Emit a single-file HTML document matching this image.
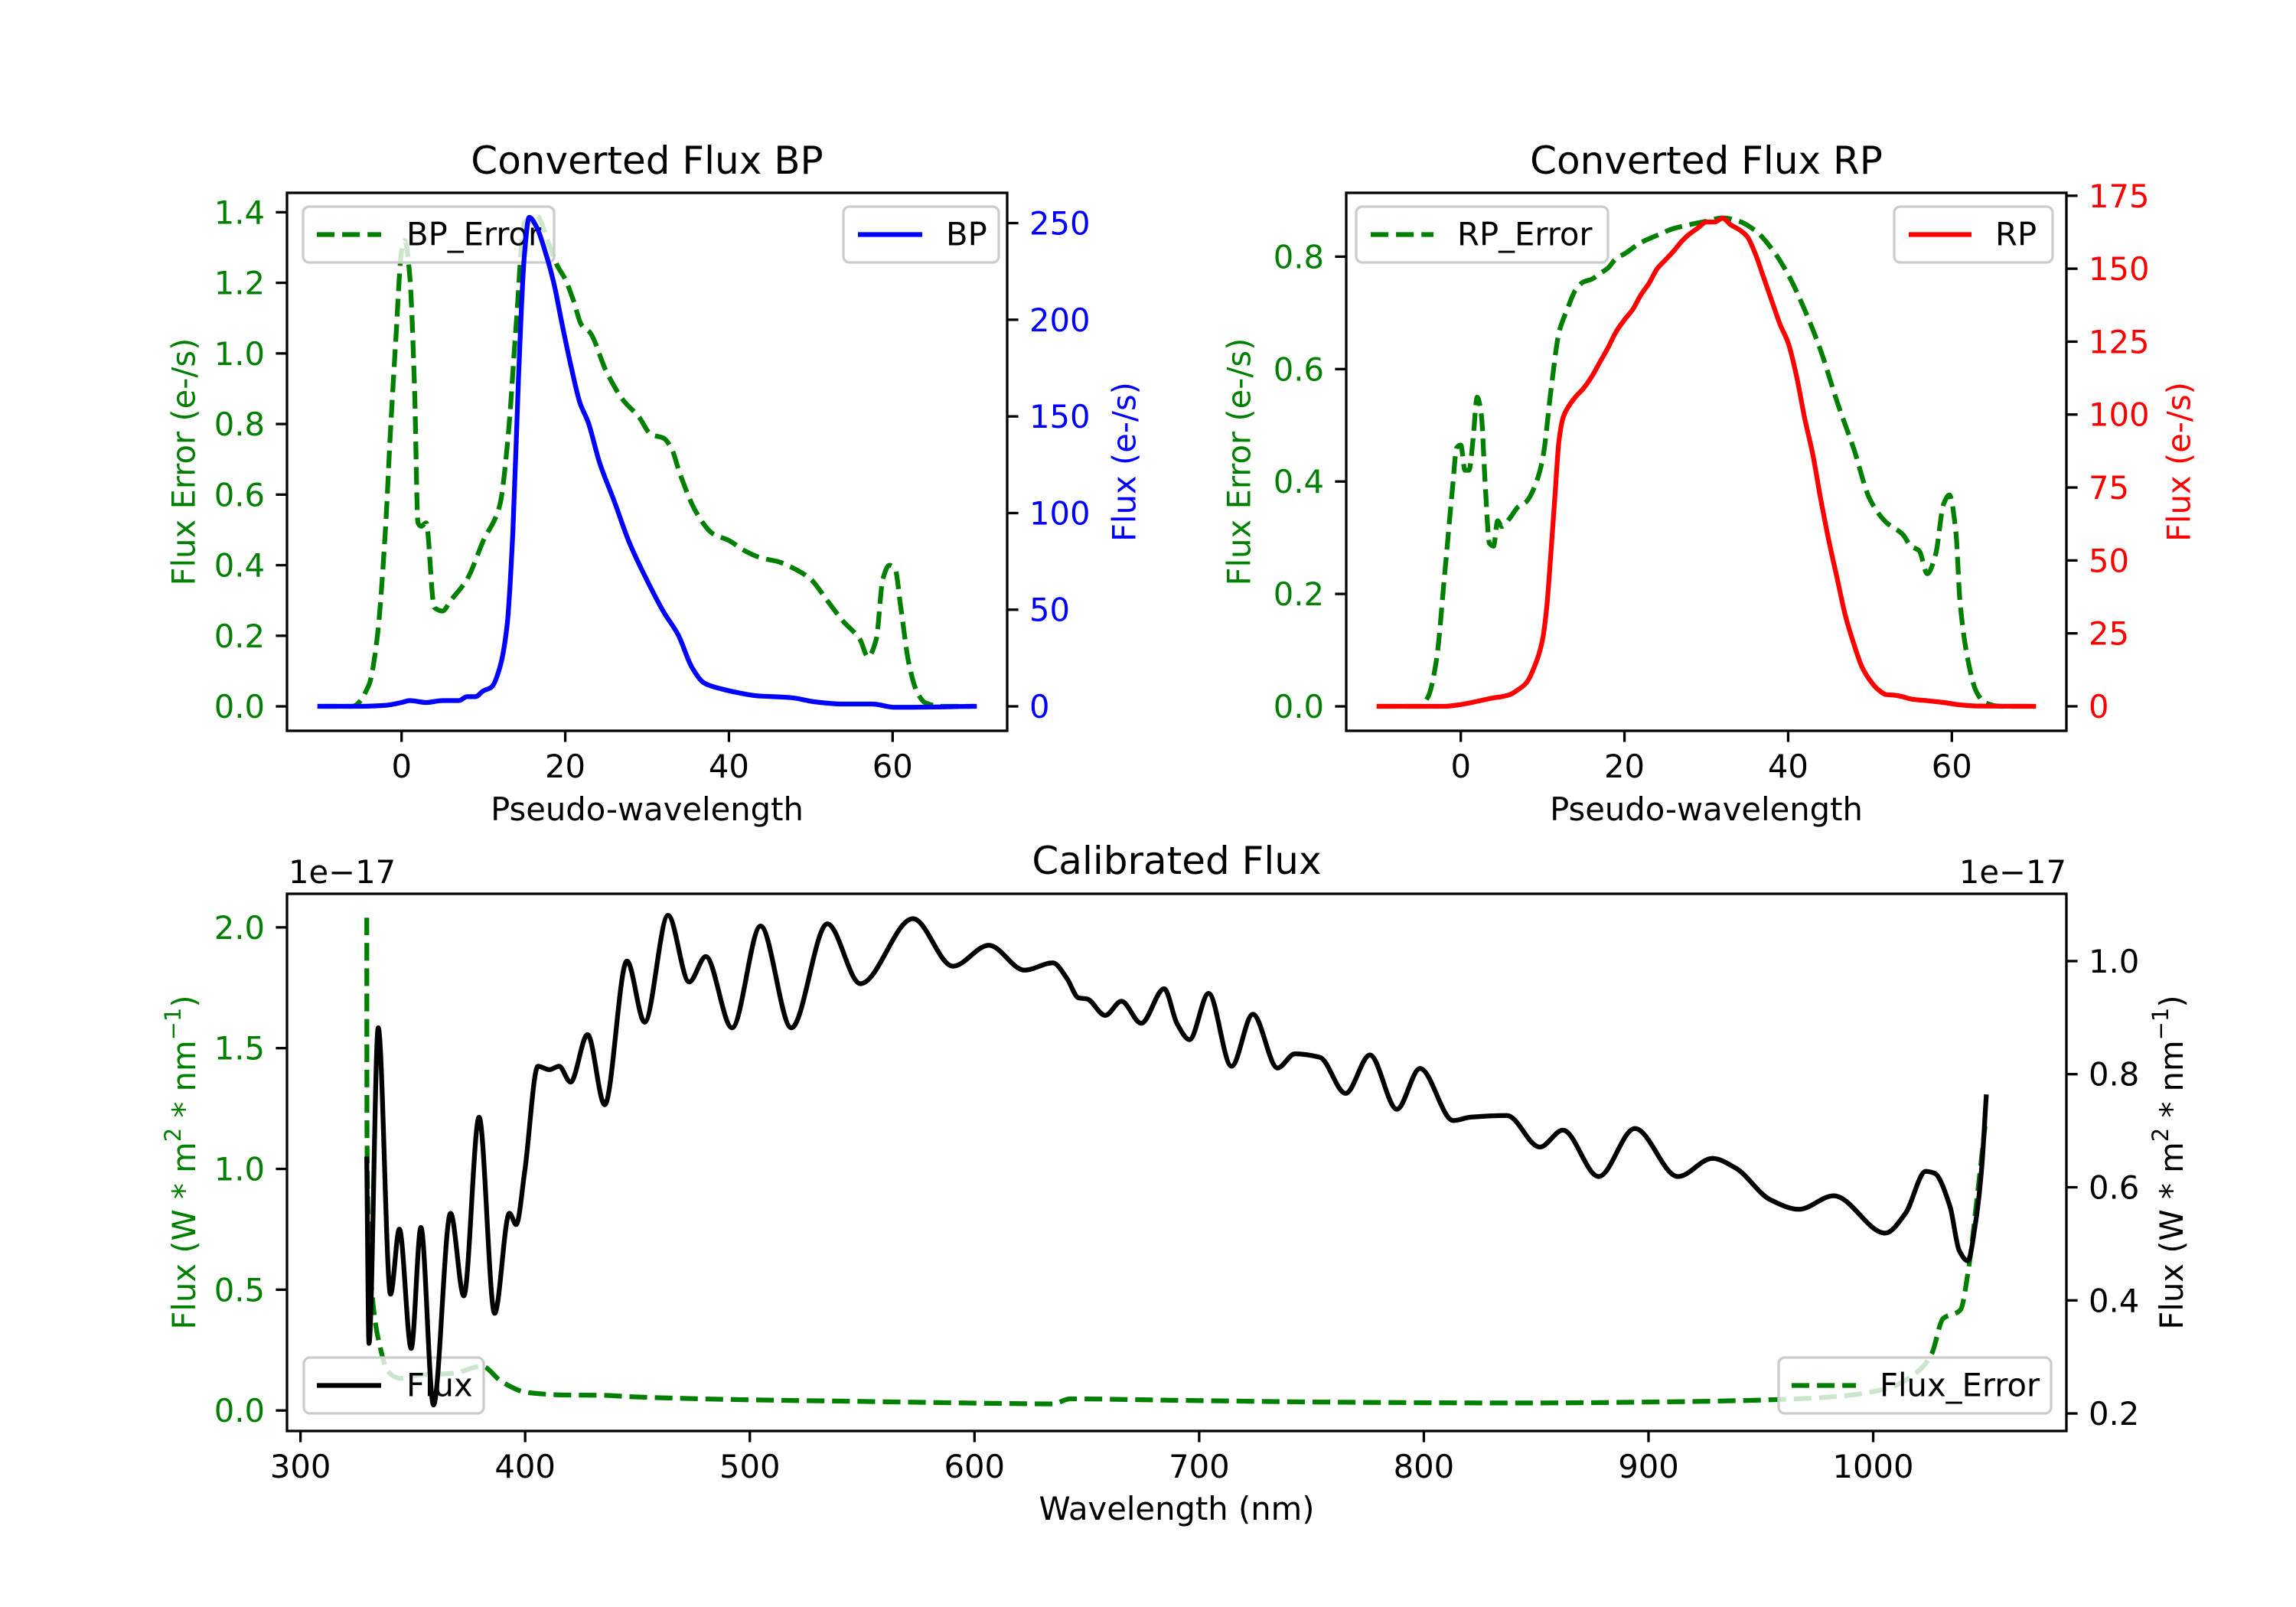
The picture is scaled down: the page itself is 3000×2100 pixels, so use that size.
<!DOCTYPE html>
<html><head><meta charset="utf-8"><style>
html,body{margin:0;padding:0;background:#fff}
svg{display:block;font-family:"DejaVu Sans","Liberation Sans",sans-serif}
</style></head><body>
<svg id="fig" width="3000" height="2100" viewBox="0 0 3000 2100" xmlns="http://www.w3.org/2000/svg">
<rect width="3000" height="2100" fill="#fff"/>
</svg>
<script>
// ---- BP panel data ----
const bpX = [-10,-5,-2,0,1,3,5,7,8,9,10,11,12,12.9,13.6,14.3,15,15.6,16.5,17.5,18.6,19.6,20.7,21.8,22.8,24.2,26,27.8,29.9,32,33.8,35.5,37,39.1,41.2,43.3,47.6,50.4,53.9,57.5,60.3,70];
const bpFlux = [0,0,0.5,2,3,2,3,3,5,5,8,10,20,42,90,171,233,253,248,236,219,198,176,157,147,126,106,85,66,49,37,20,12,9,7,5.5,4.5,2.4,1.2,1.2,-0.5,0];
const bpErrX = [-10,-6,-4,-3,-2,-1.4,-0.7,0,0.4,1,1.6,2,2.4,3,4,5,6,8,10,12,13,14,15,16.5,18,19,20,21,22,23,25,27,29,30.5,32,33,34,36,38,40,42,44,46,48,50,52,54,56,57,58,58.8,59.6,60.3,61,62,63,64,66,70];
const bpErr = [0,0,0.06,0.19,0.49,0.76,1.04,1.29,1.32,1.22,0.89,0.52,0.51,0.52,0.28,0.27,0.30,0.36,0.47,0.57,0.76,1.08,1.37,1.39,1.31,1.25,1.21,1.15,1.08,1.06,0.95,0.87,0.82,0.77,0.76,0.73,0.66,0.55,0.49,0.47,0.44,0.42,0.41,0.39,0.36,0.30,0.24,0.19,0.14,0.19,0.36,0.40,0.39,0.28,0.12,0.04,0.01,0,0];
// ---- RP panel data ----
const rpX = [-10,-2,0,2,4,5,6,7,8,9,10,10.5,11,11.5,12,12.5,13,14,15,16,17,18,19,20,21,22,23,24,25,26,27,28,29,30,31,32,33,34,35,36,37,38,39,40,41,42,43,44,45,46,47,48,49,50,51,52,53,54,55,57,59,61,63,70];
const rpFlux = [0,0,0.6,1.7,2.9,3.3,4,5.7,8,13.6,23,34,52,72,91,99,102,106,109,113,118,123,128.5,132.5,136,141,145,150,153,156,159.4,162,164,166,166,167.3,165,163.4,161,155,147,139,131,124.6,113.5,99,86.5,70.7,56.4,43.7,31,21.6,13.6,8.9,5.7,4,3.8,3.3,2.5,1.9,1.3,0.5,0.1,0];
const rpErrX = [-10,-5,-4,-3,-2,-1,-0.5,0,0.5,1,1.5,2,2.5,3,3.5,4,4.5,5,6,7,8,9,10,11,12,13,14,15,16,17,18,19,20,22,24,26,28,30,32,34,36,38,40,42,44,46,48,50,52,54,55,56,57,58,59,59.7,60.5,61,62,63,64,66,70];
const rpErr = [0,0,0.017,0.08,0.23,0.39,0.46,0.465,0.42,0.42,0.475,0.55,0.52,0.39,0.29,0.285,0.33,0.32,0.335,0.355,0.364,0.39,0.44,0.56,0.665,0.706,0.74,0.755,0.76,0.77,0.78,0.797,0.805,0.825,0.838,0.85,0.857,0.863,0.869,0.863,0.846,0.814,0.768,0.706,0.632,0.541,0.459,0.368,0.327,0.306,0.285,0.277,0.236,0.269,0.36,0.376,0.31,0.186,0.08,0.026,0.007,0,0];
// ---- Calibrated panel data (units of 1e-17) ----
const wlFlux = [329.5,330.5,334.6,340.1,344,349.3,353.6,359.2,366.8,372.7,379.5,386.4,393,396,399.8,405.7,410.8,415.1,420.2,427.8,435.4,445.3,453.2,463.6,473,480.4,492.1,504.8,518.5,534.5,549.2,572.6,590.4,606.4,622.2,634.9,641.2,646.3,650.1,658.2,665.4,674.2,684.4,690.2,695.7,704.2,714.4,723.9,734.9,742.6,753.7,765.2,776,788,798.3,813.1,820.8,837,851.6,861.9,877.8,893.9,913.1,928.5,938.8,954.2,967,982.4,1005.4,1014.4,1023.4,1027.2,1034.2,1038.3,1042.1,1045.7,1048.3,1050.3];
const calFlux = [0.650,0.324,0.882,0.411,0.526,0.315,0.529,0.215,0.554,0.408,0.724,0.377,0.554,0.534,0.628,0.814,0.808,0.814,0.786,0.870,0.746,1.0,0.892,1.081,0.963,1.008,0.882,1.062,0.882,1.066,0.960,1.075,0.991,1.028,0.984,0.997,0.969,0.935,0.933,0.904,0.929,0.890,0.951,0.889,0.861,0.943,0.814,0.906,0.811,0.836,0.830,0.766,0.834,0.738,0.810,0.718,0.724,0.727,0.671,0.701,0.619,0.704,0.619,0.651,0.634,0.578,0.561,0.585,0.519,0.554,0.628,0.625,0.566,0.488,0.470,0.541,0.634,0.760];
const wlErr = [329.5,329.6,330.5,332.5,335,338.9,344,352.8,368,380.8,389.7,401.1,418.9,434.1,449.4,495.1,545.9,596.7,634.9,642.5,690,764.4,841.3,918.3,956.7,982.4,1005.4,1020.8,1026,1031.1,1038.8,1042.6,1046.5,1049.8];
const calErr = [2.04,1.15,0.714,0.423,0.28,0.162,0.133,0.147,0.154,0.183,0.118,0.074,0.064,0.063,0.056,0.045,0.038,0.031,0.027,0.048,0.042,0.034,0.031,0.037,0.045,0.057,0.089,0.169,0.234,0.380,0.416,0.597,0.902,1.178];
// tick labels
const pwTicks = [0,20,40,60];
const bpErrTicks = [0,0.2,0.4,0.6,0.8,1.0,1.2,1.4];
const bpFluxTicks = [0,50,100,150,200,250];
const rpErrTicks = [0,0.2,0.4,0.6,0.8];
const rpFluxTicks = [0,25,50,75,100,125,150,175];
const wlTicks = [300,400,500,600,700,800,900,1000];
const calErrTicks = [0,0.5,1.0,1.5,2.0];
const calFluxTicks = [0.2,0.4,0.6,0.8,1.0];

const NS="http://www.w3.org/2000/svg";
const svg=document.getElementById('fig');
const FS=41.7, GREEN="#008000", BLUE="#0000ff", RED="#ff0000";
function el(tag,attrs,parent){const e=document.createElementNS(NS,tag);for(const k in attrs)e.setAttribute(k,attrs[k]);(parent||svg).appendChild(e);return e;}
function scale(d0,d1,p0,p1){return v=>p0+(v-d0)*(p1-p0)/(d1-d0);}
// monotone cubic (Fritsch-Carlson) path through pixel points
function monoPath(P){
  const n=P.length; if(n<2) return '';
  const dx=[],dy=[],m=[],t=[];
  for(let i=0;i<n-1;i++){dx[i]=P[i+1][0]-P[i][0];dy[i]=P[i+1][1]-P[i][1];m[i]=dx[i]>1e-9?dy[i]/dx[i]:(dy[i]>=0?1e6:-1e6);}
  t[0]=m[0];t[n-1]=m[n-2];
  for(let i=1;i<n-1;i++){ if(m[i-1]*m[i]<=0) t[i]=0; else { const w1=2*dx[i]+dx[i-1], w2=dx[i]+2*dx[i-1]; t[i]=(w1+w2)/(w1/m[i-1]+w2/m[i]); } }
  let d='M'+P[0][0].toFixed(1)+','+P[0][1].toFixed(1);
  for(let i=0;i<n-1;i++){
    const h=dx[i]/3;
    if(dx[i]<1e-6||Math.abs(m[i])>1e5){d+=' L'+P[i+1][0].toFixed(1)+','+P[i+1][1].toFixed(1);continue;}
    d+=' C'+(P[i][0]+h).toFixed(1)+','+(P[i][1]+t[i]*h).toFixed(1)+' '+(P[i+1][0]-h).toFixed(1)+','+(P[i+1][1]-t[i+1]*h).toFixed(1)+' '+P[i+1][0].toFixed(1)+','+P[i+1][1].toFixed(1);
  }
  return d;
}
function line(xs,ys,sx,sy,color,dashed,name,clip){
  const P=xs.map((x,i)=>[sx(x),sy(ys[i])]);
  const p=el('path',{d:monoPath(P),fill:'none',stroke:color,'stroke-width':6.25,'stroke-linejoin':'round','stroke-linecap':dashed?'butt':'square','clip-path':'url(#'+clip+')'});
  if(dashed)p.setAttribute('stroke-dasharray','23.1 10');
  
  
}
function text(x,y,s,opt,name){
  const t=el('text',Object.assign({x:x,y:y,'font-size':FS,fill:'#000'},opt||{}));
  t.textContent=s;
  
  
  return t;
}
function fmt(v,d){return (v<0?'\u2212':'')+Math.abs(v).toFixed(d);}
function xticks(ticks,sx,bottom,d,pfx){
  ticks.forEach(v=>{const x=sx(v);
    const l=el('line',{x1:x,x2:x,y1:bottom,y2:bottom+14.6,stroke:'#000','stroke-width':3.3});
    
    
    text(x,bottom+61,fmt(v,d),{'text-anchor':'middle'},pfx+'-x-tick-label');});
}
function yticks(ticks,sy,xpos,side,d,color,pfx){
  ticks.forEach(v=>{const y=sy(v);const dx=side==='left'?-14.6:14.6;
    const l=el('line',{x1:xpos,x2:xpos+dx,y1:y,y2:y,stroke:'#000','stroke-width':3.3});
    
    
    text(side==='left'?xpos-29:xpos+29,y+15,fmt(v,d),{'text-anchor':side==='left'?'end':'start',fill:color},pfx+'-tick-label');});
}
function frame(x0,y0,x1,y1,name){
  const r=el('rect',{x:x0,y:y0,width:x1-x0,height:y1-y0,fill:'none',stroke:'#000','stroke-width':3.3});
  
  
}
function clip(id,x0,y0,x1,y1){const c=el('clipPath',{id:id});el('rect',{x:x0,y:y0,width:x1-x0,height:y1-y0},c);}
function legend(x0,y0,x1,y1,lx0,lx1,tx,label,color,dashed,name){
  const g=el('g',{});
  
  
  el('rect',{x:x0,y:y0,width:x1-x0,height:y1-y0,rx:8,fill:'#fff','fill-opacity':0.8,stroke:'#cccccc','stroke-width':3.3},g);
  const ym=(y0+y1)/2;
  const l=el('line',{x1:lx0,x2:lx1,y1:ym,y2:ym,stroke:color,'stroke-width':6.25},g);
  if(dashed)l.setAttribute('stroke-dasharray','23.1 10');
  const t=el('text',{x:tx,y:ym+14,'font-size':FS,fill:'#000'},g);t.textContent=label;
}
function vlabel(x,y,s,color,name){
  return text(x,y,s,{'text-anchor':'middle','dominant-baseline':'central',fill:color,transform:'rotate(-90 '+x+' '+y+')'},name);
}

// ===== Panel BP =====
(function(){
  const X0=375,X1=1316,Y0=252,Y1=955;
  const sx=scale(-14,74,X0,X1), syL=scale(-0.0693,1.455,Y1,Y0), syR=scale(-12.65,265.65,Y1,Y0);
  clip('cbp',X0,Y0,X1,Y1);
  text((X0+X1)/2,227,'Converted Flux BP',{'text-anchor':'middle','font-size':50},'bp-title');
  line(bpErrX,bpErr,sx,syL,GREEN,true,'bp-error-line','cbp');
  legend(396,270,724,343,414,498,531,'BP_Error',GREEN,true,'bp-error-legend');
  line(bpX,bpFlux,sx,syR,BLUE,false,'bp-flux-line','cbp');
  legend(1102,270,1305,343,1121,1205,1236,'BP',BLUE,false,'bp-legend');
  frame(X0,Y0,X1,Y1,'bp-axes-frame');
  xticks(pwTicks,sx,Y1,0,'bp');
  yticks(bpErrTicks,syL,X0,'left',1,GREEN,'bp-error-y');
  yticks(bpFluxTicks,syR,X1,'right',0,BLUE,'bp-flux-y');
  text((X0+X1)/2,1072,'Pseudo-wavelength',{'text-anchor':'middle'},'bp-x-axis-title');
  vlabel(240,(Y0+Y1)/2,'Flux Error (e-/s)',GREEN,'bp-left-y-axis-title');
  vlabel(1469,(Y0+Y1)/2,'Flux (e-/s)',BLUE,'bp-right-y-axis-title');
})();

// ===== Panel RP =====
(function(){
  const X0=1759,X1=2700,Y0=252,Y1=955;
  const sx=scale(-14,74,X0,X1), syL=scale(-0.0435,0.9135,Y1,Y0), syR=scale(-8.4,176,Y1,Y0);
  clip('crp',X0,Y0,X1,Y1);
  text((X0+X1)/2,227,'Converted Flux RP',{'text-anchor':'middle','font-size':50},'rp-title');
  line(rpErrX,rpErr,sx,syL,GREEN,true,'rp-error-line','crp');
  legend(1772,270,2101,343,1791,1873,1904,'RP_Error',GREEN,true,'rp-error-legend');
  line(rpX,rpFlux,sx,syR,RED,false,'rp-flux-line','crp');
  legend(2475,270,2682,343,2494,2576,2607,'RP',RED,false,'rp-legend');
  frame(X0,Y0,X1,Y1,'rp-axes-frame');
  xticks(pwTicks,sx,Y1,0,'rp');
  yticks(rpErrTicks,syL,X0,'left',1,GREEN,'rp-error-y');
  yticks(rpFluxTicks,syR,X1,'right',0,RED,'rp-flux-y');
  text((X0+X1)/2,1072,'Pseudo-wavelength',{'text-anchor':'middle'},'rp-x-axis-title');
  vlabel(1619,(Y0+Y1)/2,'Flux Error (e-/s)',GREEN,'rp-left-y-axis-title');
  vlabel(2847,(Y0+Y1)/2,'Flux (e-/s)',RED,'rp-right-y-axis-title');
})();

// ===== Calibrated panel =====
(function(){
  const X0=375,X1=2700,Y0=1168,Y1=1870;
  const sx=scale(294,1086,X0,X1), syL=scale(-0.085,2.139,Y1,Y0), syR=scale(0.169,1.119,Y1,Y0);
  clip('ccal',X0,Y0,X1,Y1);
  text((X0+X1)/2,1142,'Calibrated Flux',{'text-anchor':'middle','font-size':50},'calibrated-title');
  line(wlErr,calErr,sx,syL,GREEN,true,'flux-error-line','ccal');
  legend(2324,1774,2680,1847,2341,2425,2456,'Flux_Error',GREEN,true,'flux-error-legend');
  legend(397,1774,632,1847,414,498,531,'Flux','#000',false,'flux-legend');
  line(wlFlux,calFlux,sx,syR,'#000',false,'flux-line','ccal');
  frame(X0,Y0,X1,Y1,'calibrated-axes-frame');
  xticks(wlTicks,sx,Y1,0,'calibrated');
  yticks(calErrTicks,syL,X0,'left',1,GREEN,'calibrated-left-y');
  yticks(calFluxTicks,syR,X1,'right',1,'#000','calibrated-right-y');
  text((X0+X1)/2,1986,'Wavelength (nm)',{'text-anchor':'middle'},'calibrated-x-axis-title');
  text(377,1154,'1e\u221217',{},'left-offset-text');
  text(2700,1154,'1e\u221217',{'text-anchor':'end'},'right-offset-text');
  function ylab(x,color,name){
    const y=(Y0+Y1)/2;
    const t=el('text',{x:x,y:y,'font-size':FS,fill:color,'text-anchor':'middle','dominant-baseline':'central',transform:'rotate(-90 '+x+' '+y+')'});
    
    
    const parts=[['Flux (W * m',0],['2',1],[' * nm',0],['\u22121',1],[')',0]];
    let prevSup=false;
    parts.forEach(p=>{const s=el('tspan',{},t);s.textContent=p[0];
      if(p[1]){s.setAttribute('font-size',29);s.setAttribute('dy',-14);prevSup=true;}
      else if(prevSup){s.setAttribute('dy',14);prevSup=false;}});
  }
  ylab(240,GREEN,'calibrated-left-y-axis-title');
  ylab(2837,'#000','calibrated-right-y-axis-title');
})();
</script>
</body></html>
